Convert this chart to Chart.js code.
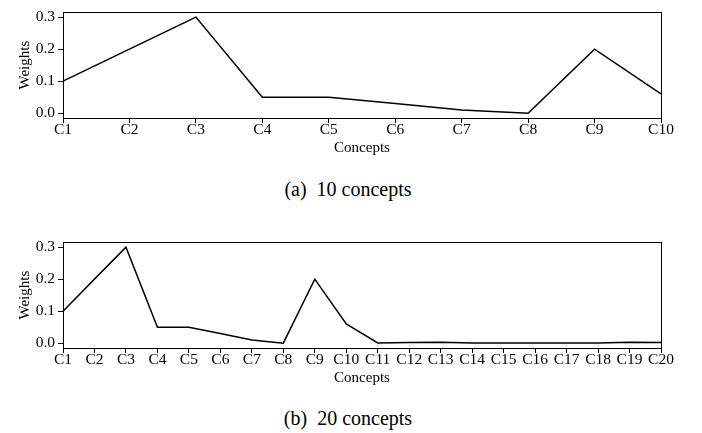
<!DOCTYPE html>
<html>
<head>
<meta charset="utf-8">
<script src="https://cdn.jsdelivr.net/npm/chart.js@4/dist/chart.umd.min.js"></script>
<style>
  body { margin: 0; background: #fff; width: 702px; height: 433px; position: relative; overflow: hidden; }
  .box { position: absolute; left: 0; width: 702px; height: 165px; }
  .cap { position: absolute; left: 0; width: 696px; text-align: center; font-family: "Liberation Serif", serif; font-size: 20px; color: #000; }
</style>
</head>
<body>
<div class="box" style="top:0"><canvas id="chartA"></canvas></div>
<div class="cap" style="top:178px">(a)&nbsp; 10 concepts</div>
<div class="box" style="top:230px"><canvas id="chartB"></canvas></div>
<div class="cap" style="top:407px">(b)&nbsp; 20 concepts</div>
<script>
// concept weights
const labels10 = ["C1", "C2", "C3", "C4", "C5", "C6", "C7", "C8", "C9", "C10"];
const weights10 = [0.1, 0.2, 0.3, 0.05, 0.05, 0.03, 0.01, 0.0, 0.2, 0.06];

const labels20 = ["C1", "C2", "C3", "C4", "C5", "C6", "C7", "C8", "C9", "C10",
  "C11", "C12", "C13", "C14", "C15", "C16", "C17", "C18", "C19", "C20"];
const weights20 = [0.1, 0.2, 0.3, 0.05, 0.05, 0.03, 0.01, 0.0, 0.2, 0.06,
  0.001, 0.002, 0.003, 0.001, 0.001, 0.001, 0.001, 0.001, 0.003, 0.002];

const yTicks = [0, 0.1, 0.2, 0.3];

const serif = "'Liberation Serif', 'Times New Roman', serif";

// draw the full axes frame (top and right sides too)
const frame = {
  id: 'frame',
  afterDraw(chart) {
    const a = chart.chartArea, ctx = chart.ctx;
    ctx.save();
    ctx.strokeStyle = '#000';
    ctx.lineWidth = 1;
    ctx.strokeRect(Math.round(a.left) + 0.5, Math.round(a.top) + 0.5,
      Math.round(a.right - a.left), Math.round(a.bottom - a.top));
    ctx.restore();
  }
};

function makeChart(id, labels, data) {
  return new Chart(document.getElementById(id), {
    type: 'line',
    data: {
      labels: labels,
      datasets: [{
        data: data,
        borderColor: '#000',
        borderWidth: 1.5,
        pointRadius: 0,
        tension: 0,
        fill: false
      }]
    },
    options: {
      animation: false,
      responsive: true,
      maintainAspectRatio: false,
      layout: { padding: { left: 0, right: 41, top: 4, bottom: 0 } },
      plugins: { legend: { display: false }, tooltip: { enabled: false } },
      scales: {
        x: {
          grid: { drawOnChartArea: false, tickLength: 5, color: '#000' },
          border: { color: '#000' },
          ticks: { color: '#000', autoSkip: false, maxRotation: 0, padding: -2,
                   font: { family: serif, size: 15.5 } },
          title: { display: true, text: 'Concepts', color: '#000',
                   padding: { top: 0, bottom: 8 },
                   font: { family: serif, size: 15, lineHeight: 1.2 } },
          afterFit(s) { s.height = 47; }
        },
        y: {
          min: -0.015,
          max: 0.315,
          grid: { drawOnChartArea: false, tickLength: 5, color: '#000' },
          border: { color: '#000' },
          ticks: { color: '#000', padding: 3,
                   font: { family: serif, size: 15.5 },
                   callback: v => v.toFixed(1) },
          title: { display: true, text: 'Weights', color: '#000',
                   padding: { top: 16, bottom: 0 },
                   font: { family: serif, size: 15, lineHeight: 1.2 } },
          afterBuildTicks(s) { s.ticks = yTicks.map(v => ({ value: v })); },
          afterFit(s) { s.width = 63; }
        }
      }
    },
    plugins: [frame]
  });
}

makeChart('chartA', labels10, weights10);
makeChart('chartB', labels20, weights20);
</script>
</body>
</html>
